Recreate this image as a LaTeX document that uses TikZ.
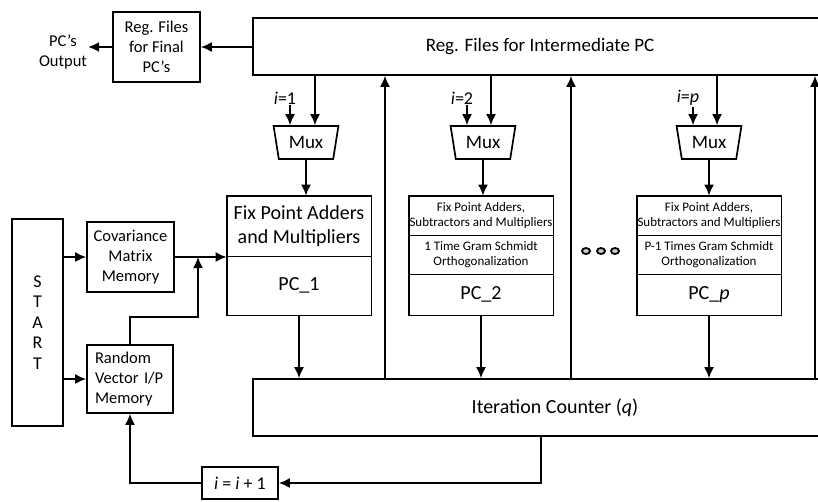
\documentclass[tikz,border=0pt]{standalone}
\usepackage{fontspec}
\setmainfont{Carlito}
\usetikzlibrary{shapes.geometric,positioning,arrows.meta}
\tikzstyle{blk} = [rectangle, draw=black, line width=1.7pt, inner sep=0pt, align=center]
\tikzstyle{part} = [rectangle, draw=black, line width=0.8pt, inner sep=0pt, align=center, minimum width=144pt]

\begin{document}
\begin{tikzpicture}[x=1pt,y=-1pt]
\tikzstyle{big} = [font=\fontsize{20}{24}\selectfont]
\tikzstyle{mid} = [font=\fontsize{16.5}{20}\selectfont]
\tikzstyle{sml} = [font=\fontsize{13}{15.5}\selectfont]
\tikzstyle{lbl} = [inner sep=1pt, font=\fontsize{18}{20}\selectfont]
\tikzstyle{mux} = [trapezium, draw=black, line width=1.7pt, shape border rotate=180, trapezium stretches=true, trapezium angle=75, minimum width=65pt, minimum height=33pt, inner sep=0pt, font=\fontsize{19}{22}\selectfont]
\tikzstyle{arr} = [-{Latex[length=11pt,width=10pt]}, line width=1.7pt]
\tikzstyle{dot} = [draw=black, line width=1.8pt, fill=gray!40]
\clip (0,0) rectangle (818,501);

% register files
\node[blk, minimum width=574pt, minimum height=57pt, font=\fontsize{19}{23}\selectfont] (regint) at (540,46.5) {Reg. Files for Intermediate PC};
\node[blk, mid, minimum width=87pt, minimum height=70pt] (final) at (156.5,47) {Reg. Files\\for Final\\PC’s};
\node[mid, inner sep=1pt, align=center] (out) at (63,52) {PC’s\\Output};

% inputs
\node[blk, minimum width=51pt, minimum height=207pt, font=\fontsize{18}{20.5}\selectfont] (start) at (37.5,322.5) {S\\T\\A\\R\\T};
\node[blk, mid, minimum width=87pt, minimum height=70pt] (cov) at (130.5,257) {Covariance\\Matrix\\Memory};
\node[blk, mid, minimum width=86pt, minimum height=68pt, text width=70pt, align=left] (rand) at (130,379) {Random\\Vector I/P\\Memory};

% multiplexers
\node[mux] (mux1) at (306,142.5) {Mux};
\node[mux] (mux2) at (483,142.5) {Mux};
\node[mux] (muxp) at (709,142.5) {Mux};
\node[lbl] (l1) at (285,98) {\textit{i}=1};
\node[lbl] (l2) at (462,98) {\textit{i}=2};
\node[lbl] (lp) at (688,98) {\textit{i}=\textit{p}};

% PC units
\node[part, big, minimum height=60pt] (pc1a) at (299,226) {Fix Point Adders\\and Multipliers};
\node[part, big, minimum height=59pt] (pc1b) at (299,285.5) {PC\_1};
\node[part, sml, minimum height=39pt] (pc2a) at (481,215.5) {Fix Point Adders,\\Subtractors and Multipliers};
\node[part, sml, minimum height=39pt] (pc2b) at (481,254.5) {1 Time Gram Schmidt\\Orthogonalization};
\node[part, big, minimum height=41pt] (pc2c) at (481,294.5) {PC\_2};
\node[part, sml, minimum height=39pt] (pcpa) at (709,215.5) {Fix Point Adders,\\Subtractors and Multipliers};
\node[part, sml, minimum height=39pt] (pcpb) at (709,254.5) {P-1 Times Gram Schmidt\\Orthogonalization};
\node[part, big, minimum height=41pt] (pcpc) at (709,294.5) {PC\_\textit{p}};
\draw[line width=1.7pt] (pc1a.north west) rectangle (pc1b.south east);
\draw[line width=1.7pt] (pc2a.north west) rectangle (pc2c.south east);
\draw[line width=1.7pt] (pcpa.north west) rectangle (pcpc.south east);
\foreach \x in {586,601,615} \draw[dot] (\x,251) ellipse [x radius=4, y radius=3];

% counter
\node[blk, big, minimum width=604pt, minimum height=57pt] (counter) at (555,407.5) {Iteration Counter (\textit{q})};
\node[blk, lbl, inner sep=0pt, minimum width=76pt, minimum height=32pt] (inc) at (240,483) {\textit{i} = \textit{i} + 1};

\coordinate (m1s) at ([xshift=-16pt]mux1.north);
\coordinate (m1r) at ([xshift=9pt]mux1.north);
\coordinate (m2s) at ([xshift=-16pt]mux2.north);
\coordinate (m2r) at ([xshift=8pt]mux2.north);
\coordinate (mps) at ([xshift=-16pt]muxp.north);
\coordinate (mpr) at ([xshift=8pt]muxp.north);
\coordinate (up1) at (385,0);
\coordinate (up2) at (571,0);
\coordinate (up3) at (815,0);
\coordinate (jn) at (198,257);
\coordinate (bend) at (198,317);
\coordinate (fb) at (541,0);

\draw[arr] (regint.west |- final.east) -- (final.east);
\draw[arr] (final.west) -- (out.east |- final.west);
\draw[arr] (start.east |- cov.west) -- (cov.west);
\draw[arr] (start.east |- rand.west) -- (rand.west);
\draw[arr] (cov.east) -- (cov.east -| pc1a.west);
\draw[arr] (rand.north) |- (bend) -- (jn);

\draw[arr] (m1s |- l1.south) -- (m1s);
\draw[arr] (m2s |- l2.south) -- (m2s);
\draw[arr] (mps |- lp.south) -- (mps);
\draw[arr] (m1r |- regint.south) -- (m1r);
\draw[arr] (m2r |- regint.south) -- (m2r);
\draw[arr] (mpr |- regint.south) -- (mpr);
\draw[arr] (mux1.south) -- (mux1.south |- pc1a.north);
\draw[arr] (mux2.south) -- (mux2.south |- pc2a.north);
\draw[arr] (muxp.south) -- (muxp.south |- pcpa.north);

\draw[arr] (pc1b.south) -- (pc1b.south |- counter.north);
\draw[arr] (pc2c.south) -- (pc2c.south |- counter.north);
\draw[arr] (pcpc.south) -- (pcpc.south |- counter.north);
\draw[arr] (counter.north -| up1) -- (regint.south -| up1);
\draw[arr] (counter.north -| up2) -- (regint.south -| up2);
\draw[arr] (counter.north -| up3) -- (regint.south -| up3);

\draw[arr] (counter.south -| fb) |- (inc.east);
\draw[arr] (inc.west) -| (rand.south);
\end{tikzpicture}
\end{document}
